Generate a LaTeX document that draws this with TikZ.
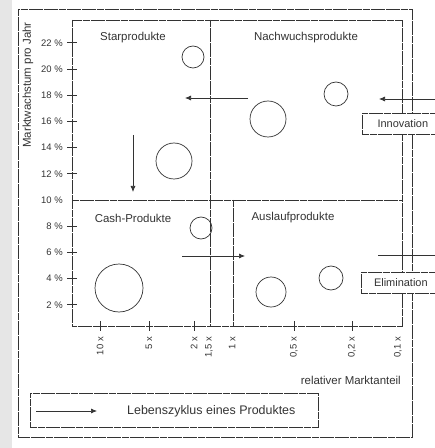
\documentclass[tikz,border=0pt]{standalone}
\usepackage{fontspec}
\setmainfont{Liberation Sans}
\usetikzlibrary{arrows.meta}
\definecolor{ink}{HTML}{333333}
\definecolor{paper}{HTML}{E6E6E6}

\begin{document}
\begin{tikzpicture}[x=1bp,y=1bp,
  frame/.style={draw=ink, line width=0.7bp, dash pattern=on 7bp off 0.6bp},
  plain/.style={draw=ink, line width=0.7bp},
  flow/.style={draw=ink, line width=0.7bp, -{Latex[length=6bp,width=5bp]}},
  bubble/.style={circle, draw=ink, line width=0.7bp, inner sep=0pt},
  quadlabel/.style={font=\fontsize{11.5}{13}\selectfont, text=ink, inner sep=0pt},
  ticklabel/.style={font=\fontsize{9.5}{11}\selectfont, text=ink, inner sep=0pt},
  tagbox/.style={frame, fill=white, inner sep=0pt, font=\fontsize{11}{13}\selectfont, text=ink}
]
% page: 435 x 448, y measured downwards as negative values
\useasboundingbox (0,0) rectangle (435,-448);
\clip (0,0) rectangle (435,-448);

% page edge
\fill[paper] (0,0) rectangle (12,-448);

% outer frame
\draw[frame] (18,-9) rectangle (412,-437);

% plot area and quadrant dividers
\draw[frame] (72,-20) rectangle (402,-326);
\draw[frame] (72,-200) -- (402,-200);
\draw[frame] (210,-20) -- (210,-326);
\draw[frame] (233,-200) -- (233,-326);

% axis title
\node[quadlabel, rotate=90] (ytitle) at (28,-85) {Marktwachstum pro Jahr};

% y ticks
\foreach \p in {2,4,6,8,10,12,14,16,18,20,22} {
  \pgfmathsetmacro{\yy}{(\p-10)*13.1-200}
  \node[ticklabel, anchor=east] (y\p) at (63,\yy) {\p~\%};
}
\foreach \p in {2,4,6,8,12,14,16,18,20,22} {
  \pgfmathsetmacro{\yy}{(\p-10)*13.1-200}
  \draw[plain] (67,\yy) -- (77,\yy);
}

% x ticks
\foreach \xx/\lab/\nm in {100/10 x/a,149/5 x/b,194/2 x/c,209/{1,5 x}/d,232/1 x/e,294/{0,5 x}/f,352/{0,2 x}/g,398/{0,1 x}/h} {
  \node[ticklabel, rotate=90, anchor=east] (x\nm) at (\xx,-337) {\lab};
}
\foreach \xx in {100,149,194,294,352} {
  \draw[plain] (\xx,-321) -- (\xx,-331);
}
\node[quadlabel, anchor=east] (xtitle) at (401,-380) {relativer Marktanteil};

% quadrant labels
\node[quadlabel] (star) at (133,-38) {Starprodukte};
\node[quadlabel] (nach) at (306,-38) {Nachwuchsprodukte};
\node[quadlabel] (cash) at (133,-218) {Cash-Produkte};
\node[quadlabel] (ausl) at (293,-218) {Auslaufprodukte};

% product bubbles
\node[bubble, minimum size=22bp] (s1) at (193,-57) {};
\node[bubble, minimum size=36bp] (s2) at (174,-161) {};
\node[bubble, minimum size=24bp] (n1) at (336,-94) {};
\node[bubble, minimum size=36bp] (n2) at (268,-119) {};
\node[bubble, minimum size=22bp] (c1) at (201,-228) {};
\node[bubble, minimum size=48bp] (c2) at (119,-288) {};
\node[bubble, minimum size=24bp] (a1) at (331,-278) {};
\node[bubble, minimum size=30bp] (a2) at (271,-292) {};

% entry and exit boxes
\node[tagbox, minimum width=76bp, minimum height=21bp, anchor=west] (inno) at (362,-123.5) {\hspace*{5bp}Innovation};
\node[tagbox, minimum width=76bp, minimum height=21bp, anchor=west] (elim) at (361,-282.5) {\hspace*{3bp}Elimination};

% life-cycle arrows
\coordinate (innoIn) at (436,-99);
\coordinate (innoTip) at (379,-99);
\coordinate (nachOut) at (248,-98);
\coordinate (starIn) at (185,-98);
\coordinate (starOut) at (133,-135);
\coordinate (cashIn) at (133,-192);
\coordinate (cashOut) at (182,-256);
\coordinate (auslIn) at (245,-256);
\coordinate (elimOut) at (378,-255);
\coordinate (elimEnd) at (436,-255);

\draw[flow] (innoIn) -- (innoTip);
\draw[flow] (nachOut) -- (starIn);
\draw[flow] (starOut) -- (cashIn);
\draw[flow] (cashOut) -- (auslIn);
\draw[plain] (elimOut) -- (elimEnd);

% legend
\node[frame, minimum width=288bp, minimum height=34bp, anchor=north west, inner sep=0pt] (legend) at (30,-393) {};
\coordinate (legA) at (36,-411);
\coordinate (legB) at (97,-411);
\draw[flow] (legA) -- (legB);
\node[anchor=west, inner sep=0pt, font=\fontsize{12.5}{14}\selectfont, text=ink] (legtext) at (127,-411) {Lebenszyklus eines Produktes};

\end{tikzpicture}
\end{document}
